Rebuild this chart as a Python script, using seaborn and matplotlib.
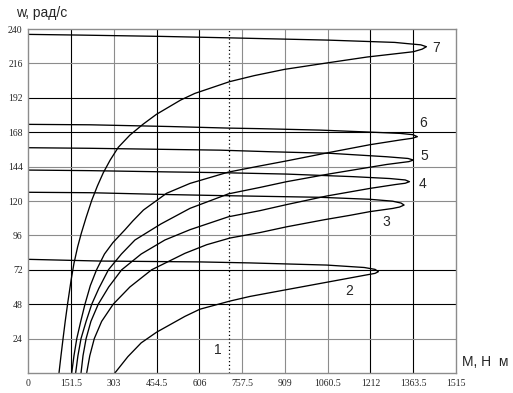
import numpy as np
import pandas as pd
import matplotlib
matplotlib.use('Agg')
import matplotlib.pyplot as plt
import seaborn as sns

# ---------------- DATA ----------------
# each curve: upper branch from M=0 out to the tip, then lower branch back to w=0
m2 = [0, 254, 608, 785, 1057, 1190, 1228, 1240, 1228, 1200, 1057, 900, 785, 715, 608,
      555, 455, 400, 353, 307]
w2 = [79.3, 78.1, 77.5, 76.8, 75.3, 73.6, 72.3, 70.7, 69.5, 68.5, 63.3, 57.6, 53.4, 50.2,
      44.5, 39.5, 28.5, 21, 11.4, 0]

m3 = [0, 219, 500, 679, 1033, 1210, 1290, 1320, 1331, 1315, 1290, 1210, 1139, 1050, 915,
      821, 715, 632, 555, 437, 360, 301, 260, 234, 218, 207]
w3 = [126.1, 125.8, 124.5, 123.8, 122.6, 121.2, 119.9, 118.6, 117.2, 115.8, 114.8, 112.6,
      110, 107, 102, 98, 94.2, 89.5, 83.5, 72, 60, 48, 36, 24, 12, 0]

m4 = [0, 219, 500, 679, 915, 1151, 1280, 1335, 1350, 1335, 1300, 1210, 1057, 915, 821,
      709, 573, 484, 400, 331, 285, 248, 222, 205, 194, 187]
w4 = [141.6, 141.2, 140.3, 139.8, 138.8, 137, 135.7, 134.7, 133.5, 132.4, 131.5, 128.8,
      123.5, 117.5, 113.3, 109, 100, 92.8, 83, 72, 60, 48, 36, 24, 12, 0]

m5 = [0, 219, 500, 679, 856, 1069, 1269, 1345, 1364, 1348, 1320, 1269, 1069, 915, 821,
      709, 573, 470, 378, 330, 284, 250, 225, 205, 187, 176, 168]
w5 = [157.2, 156.8, 156, 155.5, 154.4, 153.3, 150.9, 149.7, 148.6, 147.5, 146.8, 145.5,
      139, 133.5, 129.5, 125, 114.9, 104, 92.8, 83, 72, 59, 48, 36, 24, 12, 0]

m6 = [0, 219, 500, 708, 821, 1033, 1210, 1317, 1362, 1378, 1360, 1317, 1210, 1069, 915,
      821, 709, 573, 490, 408, 370, 342, 300, 270, 242, 220, 201, 186, 172, 162, 154]
w6 = [173.5, 173.2, 172, 170.9, 170.5, 169.5, 168.1, 167.2, 166.3, 164.9, 163.8, 162.6,
      159.3, 154, 148, 144.5, 140.2, 132.3, 125.4, 113.7, 106, 99.8, 91, 83, 72, 61,
      48, 36, 24, 12, 0]

m7 = [0, 187, 471, 707, 1062, 1298, 1340, 1390, 1410, 1395, 1364, 1200, 1062, 908, 800,
      713, 590, 540, 454, 406, 360, 319, 290, 266, 245, 225, 205, 188, 175, 162, 152,
      140, 131, 124, 116, 109]
w7 = [236.3, 235.8, 234.9, 233.9, 232.3, 230.7, 229.9, 229, 227.7, 226, 224.2, 220.5,
      216.5, 211.9, 207.5, 203.3, 195.1, 190.5, 180.5, 173.5, 166, 157.5, 148.5, 139.8,
      130.5, 120.5, 108.5, 97.5, 88, 76.5, 65, 49, 36, 25, 12, 0]

curves = {'2': (m2, w2), '3': (m3, w3), '4': (m4, w4), '5': (m5, w5),
          '6': (m6, w6), '7': (m7, w7)}

load_torque = 712  # curve 1, dotted vertical line

x_ticks = [0, 151.5, 303, 454.5, 606, 757.5, 909, 1060.5, 1212, 1363.5, 1515]
x_labels = ['0', '151.5', '303', '454.5', '606', '757.5', '909', '1060.5', '1212',
            '1363.5', '1515']
y_ticks = [24, 48, 72, 96, 120, 144, 168, 192, 216, 240]
y_labels = ['24', '48', '72', '96', '120', '144', '168', '192', '216', '240']

rows = []
for name, (ms, ws) in curves.items():
    for i, (m, w) in enumerate(zip(ms, ws)):
        rows.append({'curve': name, 'order': i, 'M': m, 'w': w})
df = pd.DataFrame(rows)

# curve number label placement (data coords)
label_pos = {'1': (673, 16), '2': (1137, 57.4), '3': (1269, 105.6), '4': (1397, 131.6),
             '5': (1401, 151.4), '6': (1397, 174.6), '7': (1445, 226.5)}

# ---------------- PLOT ----------------
sns.set_style('white')
plt.rcParams['font.family'] = ['Liberation Sans', 'DejaVu Sans']

fig = plt.figure(figsize=(5.13, 3.93), dpi=100)
ax = fig.add_axes([0.055, 0.051, 0.834, 0.875])

sns.lineplot(data=df, x='M', y='w', units='curve', estimator=None, sort=False,
             color='black', linewidth=0.95, ax=ax, legend=False)
ax.axvline(load_torque, color='black', linestyle=(0, (1, 2)), linewidth=0.9)

ax.set_xlim(0, 1515)
ax.set_ylim(0, 240)
ax.set_xticks(x_ticks)
ax.set_xticklabels(x_labels, family='Liberation Serif', fontsize=7)
ax.set_yticks(y_ticks)
ax.set_yticklabels(y_labels, family='Liberation Serif', fontsize=7)
ax.tick_params(axis='both', length=2.5, width=0.8, color='black', pad=1.5)
ax.set_xlabel('')
ax.set_ylabel('')

# grid lines: the original has a mix of dark and gray lines
dark, gray = '#000000', '#8c8c8c'
x_grid = [None, dark, gray, dark, dark, gray, gray, gray, dark, dark, None]
for xv, c in zip(x_ticks, x_grid):
    if c:
        ax.axvline(xv, color=c, linewidth=0.8, zorder=0)
y_grid = [gray, dark, dark, gray, gray, gray, dark, dark, gray, None]
for yv, c in zip(y_ticks, y_grid):
    if c:
        ax.axhline(yv, color=c, linewidth=0.8, zorder=0)

for s in ax.spines.values():
    s.set_color('#8c8c8c')
    s.set_linewidth(1.0)

for k, (xm, yw) in label_pos.items():
    ax.text(xm, yw, k, fontsize=10, ha='center', va='center', clip_on=False)

fig.text(0.031, 0.967, 'w, рад/с', fontsize=10, ha='left', va='center')
fig.text(0.9, 0.079, 'М, Н  м', fontsize=10, ha='left', va='center')

fig.savefig('out.png', dpi=100)
